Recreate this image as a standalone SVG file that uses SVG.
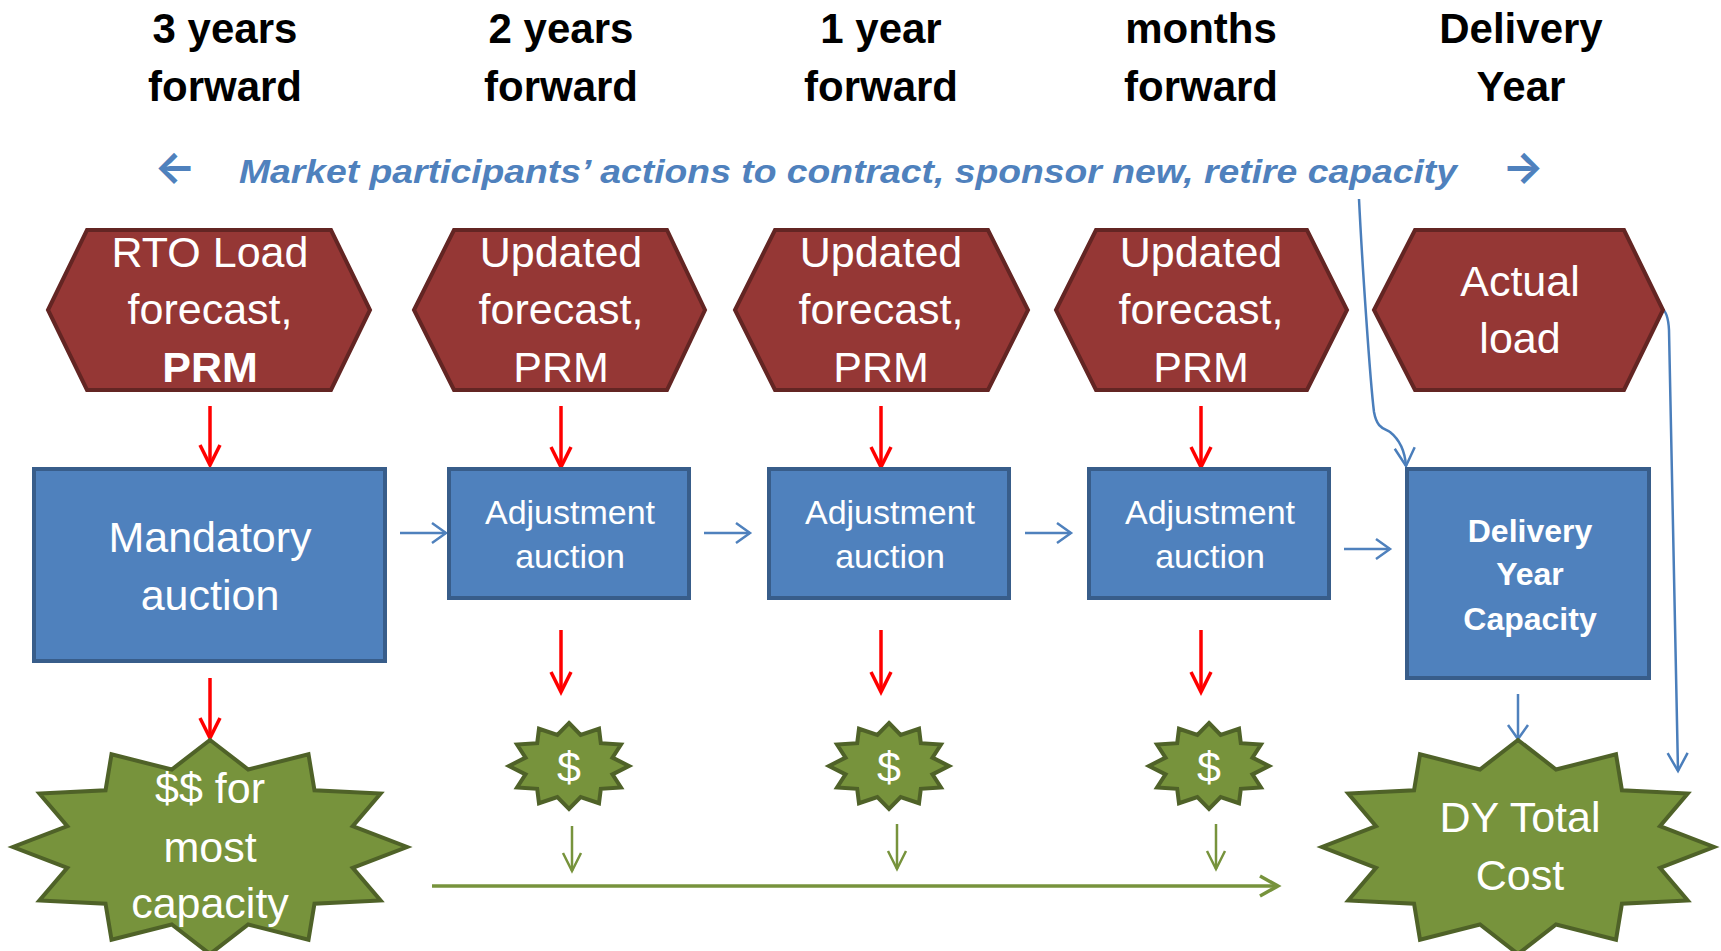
<svg xmlns="http://www.w3.org/2000/svg" xmlns:xlink="http://www.w3.org/1999/xlink" width="1721" height="951" viewBox="0 0 1721 951">
<style>
.hdr{font-family:"Liberation Sans",Arial,sans-serif;font-weight:bold;font-size:42px;fill:#000;text-anchor:middle}
.lbl{font-family:"Liberation Sans",Arial,sans-serif;font-size:43px;fill:#fff;text-anchor:middle}
.adj{font-family:"Liberation Sans",Arial,sans-serif;font-size:34px;fill:#fff;text-anchor:middle}
.dyc{font-family:"Liberation Sans",Arial,sans-serif;font-size:32px;font-weight:bold;fill:#fff;text-anchor:middle}
.mp{font-family:"Liberation Sans",Arial,sans-serif;font-size:33px;font-weight:bold;font-style:italic;fill:#4F81BD}
.arw{font-family:Inter,"DejaVu Sans",sans-serif;font-size:44px;font-weight:bold;fill:#4F81BD;text-anchor:middle}
.hex{fill:#953735;stroke:#632523;stroke-width:4;stroke-linejoin:miter}
.box{fill:#4F81BD;stroke:#385D8A;stroke-width:4}
.star{fill:#77933C;stroke:#4F6228;stroke-width:4;stroke-linejoin:miter}
.red{fill:none;stroke:#FF0000;stroke-width:3.5;marker-end:url(#ar)}
.blu{fill:none;stroke:#4F81BD;stroke-width:2.5;marker-end:url(#ab)}
.blu2{fill:none;stroke:#4A7EBB;stroke-width:2.5;marker-end:url(#ab2)}
.grn{fill:none;stroke:#77933C;stroke-width:2.5;marker-end:url(#ag)}
.grn2{fill:none;stroke:#77933C;stroke-width:3.5;marker-end:url(#ag2)}
</style>
<defs>
<polygon id="star12" vector-effect="non-scaling-stroke" points="0,-100 19.41,-72.44 50,-86.6 53.03,-53.03 86.6,-50 72.44,-19.41 100,0 72.44,19.41 86.6,50 53.03,53.03 50,86.6 19.41,72.44 0,100 -19.41,72.44 -50,86.6 -53.03,53.03 -86.6,50 -72.44,19.41 -100,0 -72.44,-19.41 -86.6,-50 -53.03,-53.03 -50,-86.6 -19.41,-72.44"/>
<marker id="ar" markerUnits="userSpaceOnUse" viewBox="-30 -20 40 40" markerWidth="40" markerHeight="40" refX="0" refY="0" orient="auto" overflow="visible"><path d="M-20,-10 L0,0 L-20,10" fill="none" stroke="#FF0000" stroke-width="3.5"/></marker>
<marker id="ab" markerUnits="userSpaceOnUse" viewBox="-30 -20 40 40" markerWidth="40" markerHeight="40" refX="0" refY="0" orient="auto" overflow="visible"><path d="M-14,-10 L0,0 L-14,10" fill="none" stroke="#4F81BD" stroke-width="2.5"/></marker>
<marker id="ab2" markerUnits="userSpaceOnUse" viewBox="-30 -20 40 40" markerWidth="40" markerHeight="40" refX="0" refY="0" orient="auto" overflow="visible"><path d="M-18,-10 L0,0 L-18,10" fill="none" stroke="#4A7EBB" stroke-width="2.5"/></marker>
<marker id="ag" markerUnits="userSpaceOnUse" viewBox="-30 -20 40 40" markerWidth="40" markerHeight="40" refX="0" refY="0" orient="auto" overflow="visible"><path d="M-18,-9 L0,0 L-18,9" fill="none" stroke="#77933C" stroke-width="2.5"/></marker>
<marker id="ag2" markerUnits="userSpaceOnUse" viewBox="-30 -20 40 40" markerWidth="40" markerHeight="40" refX="0" refY="0" orient="auto" overflow="visible"><path d="M-18,-10 L0,0 L-18,10" fill="none" stroke="#77933C" stroke-width="3.5"/></marker>
</defs>
<rect x="0" y="0" width="1721" height="951" fill="#fff"/>

<g id="headers">
<text class="hdr" x="225" y="43">3 years</text><text class="hdr" x="225" y="101">forward</text>
<text class="hdr" x="561" y="43">2 years</text><text class="hdr" x="561" y="101">forward</text>
<text class="hdr" x="881" y="43">1 year</text><text class="hdr" x="881" y="101">forward</text>
<text class="hdr" x="1201" y="43">months</text><text class="hdr" x="1201" y="101">forward</text>
<text class="hdr" x="1521" y="43">Delivery</text><text class="hdr" x="1521" y="101">Year</text>
</g>

<g id="market-actions">
<text class="arw" x="175" y="182">←</text>
<text class="mp" x="239" y="183" textLength="1218" lengthAdjust="spacingAndGlyphs">Market participants’ actions to contract, sponsor new, retire capacity</text>
<text class="arw" x="1523" y="182">→</text>
</g>

<g id="connectors">
<path class="red" d="M210,406 V465"/>
<path class="red" d="M561,406 V467"/>
<path class="red" d="M881,406 V467"/>
<path class="red" d="M1201,406 V467"/>
<path class="red" d="M210,678 V738"/>
<path class="red" d="M561,630 V692"/>
<path class="red" d="M881,630 V692"/>
<path class="red" d="M1201,630 V692"/>
<path class="blu" d="M400,533 H446"/>
<path class="blu" d="M704,533 H750"/>
<path class="blu" d="M1025,533 H1071"/>
<path class="blu" d="M1344,549 H1390"/>
<path class="blu" d="M1518,694 V739"/>
<path class="blu2" d="M1359,199 C1362,260 1370,380 1374,412 C1377,428 1383,428 1390,432 C1400,440 1405,452 1406,466"/>
<path class="blu2" d="M1662,309 Q1668,312 1669,330 L1678,771"/>
<path class="grn" d="M572,826 V871"/>
<path class="grn" d="M897,824 V869"/>
<path class="grn" d="M1216,824 V869"/>
<path class="grn2" d="M432,886 H1278"/>
</g>

<g id="hex-rto">
<polygon class="hex" points="48,310 87,230 331,230 370,310 331,390 87,390"/>
<text class="lbl" x="210" y="267">RTO Load</text><text class="lbl" x="210" y="324">forecast,</text><text class="lbl" x="210" y="382" font-weight="bold">PRM</text>
</g>
<g id="hex-upd1">
<polygon class="hex" points="414,310 454,230 667,230 705,310 667,390 454,390"/>
<text class="lbl" x="561" y="267">Updated</text><text class="lbl" x="561" y="324">forecast,</text><text class="lbl" x="561" y="382">PRM</text>
</g>
<g id="hex-upd2">
<polygon class="hex" points="735,310 775,230 988,230 1028,310 988,390 775,390"/>
<text class="lbl" x="881" y="267">Updated</text><text class="lbl" x="881" y="324">forecast,</text><text class="lbl" x="881" y="382">PRM</text>
</g>
<g id="hex-upd3">
<polygon class="hex" points="1056,310 1096,230 1307,230 1347,310 1307,390 1096,390"/>
<text class="lbl" x="1201" y="267">Updated</text><text class="lbl" x="1201" y="324">forecast,</text><text class="lbl" x="1201" y="382">PRM</text>
</g>
<g id="hex-actual">
<polygon class="hex" points="1374,310 1415,230 1624,230 1663,310 1624,390 1415,390"/>
<text class="lbl" x="1520" y="296">Actual</text><text class="lbl" x="1520" y="353">load</text>
</g>

<g id="box-mandatory">
<rect class="box" x="34" y="469" width="351" height="192"/>
<text class="lbl" x="210" y="552">Mandatory</text><text class="lbl" x="210" y="610">auction</text>
</g>
<g id="box-adj1">
<rect class="box" x="449" y="469" width="240" height="129"/>
<text class="adj" x="570" y="524">Adjustment</text><text class="adj" x="570" y="568">auction</text>
</g>
<g id="box-adj2">
<rect class="box" x="769" y="469" width="240" height="129"/>
<text class="adj" x="890" y="524">Adjustment</text><text class="adj" x="890" y="568">auction</text>
</g>
<g id="box-adj3">
<rect class="box" x="1089" y="469" width="240" height="129"/>
<text class="adj" x="1210" y="524">Adjustment</text><text class="adj" x="1210" y="568">auction</text>
</g>
<g id="box-dy">
<rect class="box" x="1407" y="469" width="242" height="209"/>
<text class="dyc" x="1530" y="542">Delivery</text><text class="dyc" x="1530" y="585">Year</text><text class="dyc" x="1530" y="630">Capacity</text>
</g>

<g id="star-main">
<use xlink:href="#star12" href="#star12" class="star" transform="translate(210,847) scale(1.97,1.07)"/>
<text class="lbl" x="210" y="803">$$ for</text><text class="lbl" x="210" y="862">most</text><text class="lbl" x="210" y="918">capacity</text>
</g>
<g id="star-s1">
<use xlink:href="#star12" href="#star12" class="star" transform="translate(569,766) scale(0.6,0.43)"/>
<text class="lbl" x="569" y="782">$</text>
</g>
<g id="star-s2">
<use xlink:href="#star12" href="#star12" class="star" transform="translate(889,766) scale(0.6,0.43)"/>
<text class="lbl" x="889" y="782">$</text>
</g>
<g id="star-s3">
<use xlink:href="#star12" href="#star12" class="star" transform="translate(1209,766) scale(0.6,0.43)"/>
<text class="lbl" x="1209" y="782">$</text>
</g>
<g id="star-dy">
<use xlink:href="#star12" href="#star12" class="star" transform="translate(1518,847) scale(1.96,1.07)"/>
<text class="lbl" x="1520" y="832">DY Total</text><text class="lbl" x="1520" y="890">Cost</text>
</g>
</svg>
